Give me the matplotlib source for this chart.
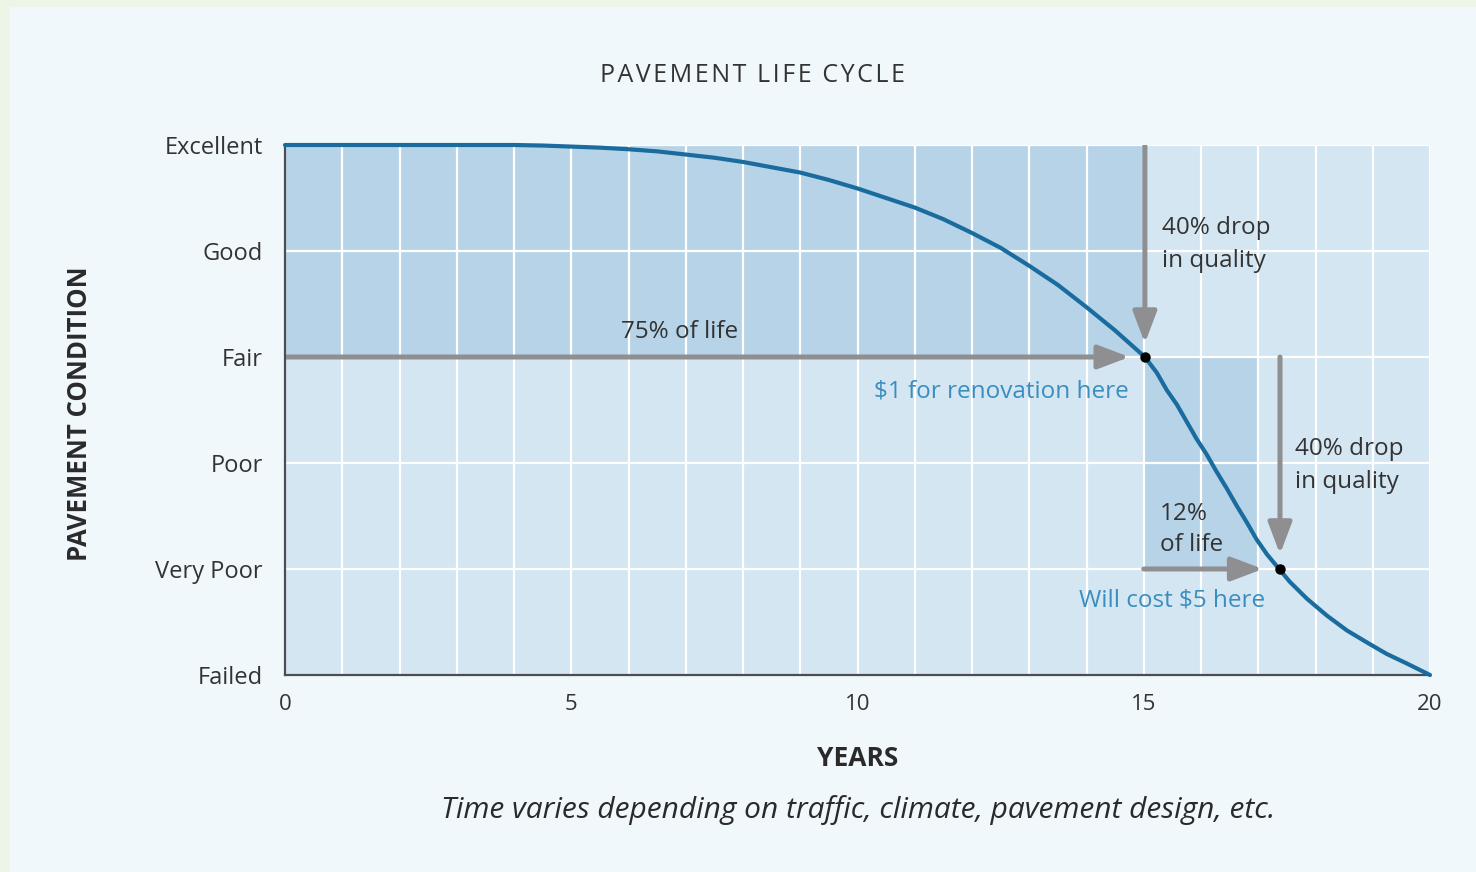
import matplotlib
matplotlib.use('Agg')
import matplotlib.pyplot as plt
from matplotlib.patches import Rectangle, FancyArrowPatch

# DATA
years = [0, 1, 2, 3, 4, 4.5, 5, 5.5, 6, 6.5, 7, 7.5, 8, 8.5, 9, 9.5, 10, 10.5, 11, 11.5, 12, 12.5,
         13, 13.5, 14, 14.5, 15.02, 15.23, 15.40, 15.58, 15.75, 15.92, 16.10, 16.27, 16.45, 16.62,
         16.80, 16.97, 17.15, 17.38, 17.55, 17.85, 18.20, 18.55, 18.89, 19.24, 19.59, 20]
condition = [5.0, 5.0, 5.0, 5.0, 5.0, 4.995, 4.985, 4.975, 4.96, 4.94, 4.91, 4.88, 4.84, 4.79, 4.74, 4.67,
             4.59, 4.50, 4.41, 4.30, 4.17, 4.03, 3.86, 3.68, 3.47, 3.25, 3.00, 2.85, 2.69, 2.55, 2.39,
             2.23, 2.08, 1.92, 1.76, 1.60, 1.44, 1.28, 1.14, 0.99, 0.88, 0.72, 0.56, 0.42, 0.31, 0.20,
             0.11, 0.0]
levels = ['Failed', 'Very Poor', 'Poor', 'Fair', 'Good', 'Excellent']
year_ticks = [0, 5, 10, 15, 20]
renew_pt = (15.02, 3)   # $1 for renovation here
cost_pt = (17.38, 1)    # will cost $5 here

# COLOURS
frame_col = '#edf6e6'
panel_col = '#f0f8fc'
light_col = '#d4e6f2'
dark_col = '#b6d3e7'
curve_col = '#1a6c9e'
arrow_col = '#8f8f92'
blue_txt = '#3a8dbf'
txt_col = '#333333'

plt.rcParams['font.family'] = ['Open Sans', 'DejaVu Sans']

fig = plt.figure(figsize=(14.76, 8.72), dpi=100)
fig.patch.set_facecolor(frame_col)
fig.patches.append(Rectangle((10 / 1476, 0), 1, 1 - 7 / 872, transform=fig.transFigure,
                             facecolor=panel_col, edgecolor='none', zorder=-1))

ax = fig.add_axes([285 / 1476, 1 - 675 / 872, 1145 / 1476, 530 / 872])
ax.set_zorder(2)
ax.set_facecolor(light_col)
ax.set_xlim(0, 20)
ax.set_ylim(0, 5)

# shaded blocks
ax.add_patch(Rectangle((0, 3), 15, 2, facecolor=dark_col, edgecolor='none', zorder=0.2))
ax.add_patch(Rectangle((15, 1), 2, 2, facecolor=dark_col, edgecolor='none', zorder=0.2))

# grid
ax.set_axisbelow(True)
ax.set_xticks(year_ticks)
ax.set_xticks(range(21), minor=True)
ax.set_yticks(range(6))
ax.set_yticklabels(levels)
ax.grid(True, which='both', color='white', lw=1.6)
ax.tick_params(which='both', length=0)
ax.tick_params(axis='y', pad=16, labelsize=17, labelcolor=txt_col)
ax.tick_params(axis='x', pad=14, labelsize=16, labelcolor=txt_col)

for s in ['top', 'right']:
    ax.spines[s].set_visible(False)
for s in ['left', 'bottom']:
    ax.spines[s].set_color('#4a4d52')
    ax.spines[s].set_linewidth(1.6)

# arrows
def arrow(p0, p1):
    a = FancyArrowPatch(p0, p1, arrowstyle='-|>,head_length=0.95,head_width=0.36', mutation_scale=20,
                        color=arrow_col, lw=3.6, shrinkA=0, shrinkB=0, zorder=2)
    ax.add_patch(a)

arrow((0, renew_pt[1]), (renew_pt[0] - 0.27, renew_pt[1]))
arrow((renew_pt[0], 5), (renew_pt[0], renew_pt[1] + 0.13))
arrow((cost_pt[0], renew_pt[1]), (cost_pt[0], cost_pt[1] + 0.14))
arrow((15, cost_pt[1]), (cost_pt[0] - 0.3, cost_pt[1]))

# curve
ax.plot(years, condition, color=curve_col, lw=3, zorder=3, clip_on=False,
        solid_capstyle='round', solid_joinstyle='round')
ax.plot([renew_pt[0], cost_pt[0]], [renew_pt[1], cost_pt[1]], 'o', color='black', ms=6.5, zorder=4)

# annotations
ax.text(6.9, 3.24, '75% of life', fontsize=17.5, color=txt_col, ha='center', va='center')
ax.text(12.52, 2.67, '$1 for renovation here', fontsize=17.5, color=blue_txt, ha='center', va='center')
ax.text(15.32, 4.06, '40% drop\nin quality', fontsize=17.5, color=txt_col, ha='left', va='center',
        linespacing=1.5)
ax.text(17.64, 1.98, '40% drop\nin quality', fontsize=17.5, color=txt_col, ha='left', va='center',
        linespacing=1.5)
ax.text(15.28, 1.37, '12%\nof life', fontsize=17.5, color=txt_col, ha='left', va='center',
        linespacing=1.4)
ax.text(15.49, 0.70, 'Will cost $5 here', fontsize=17.5, color=blue_txt, ha='center', va='center')

# titles
title = ' \u2009'.join('\u200a'.join(w) for w in 'PAVEMENT LIFE CYCLE'.split())
fig.text(753 / 1476, 1 - 75 / 872, title, fontsize=18, fontweight='medium', color='#333333',
         ha='center', va='center')
fig.text(80 / 1476, 1 - 414 / 872, 'PAVEMENT CONDITION', fontsize=18.5, fontweight='bold', color='#2a2a2a',
         rotation=90, ha='center', va='center')
fig.text(858 / 1476, 1 - 758 / 872, 'YEARS', fontsize=19, fontweight='bold', color='#2a2a2a',
         ha='center', va='center', family=['Liberation Sans Narrow', 'Open Sans'])
fig.text(858 / 1476, 1 - 810 / 872, 'Time varies depending on traffic, climate, pavement design, etc.',
         fontsize=21.5, style='italic', color='#2a2a2a', ha='center', va='center',
         family=['Liberation Sans Narrow', 'Open Sans'])

fig.savefig('out.png', dpi=100, facecolor=fig.get_facecolor())
